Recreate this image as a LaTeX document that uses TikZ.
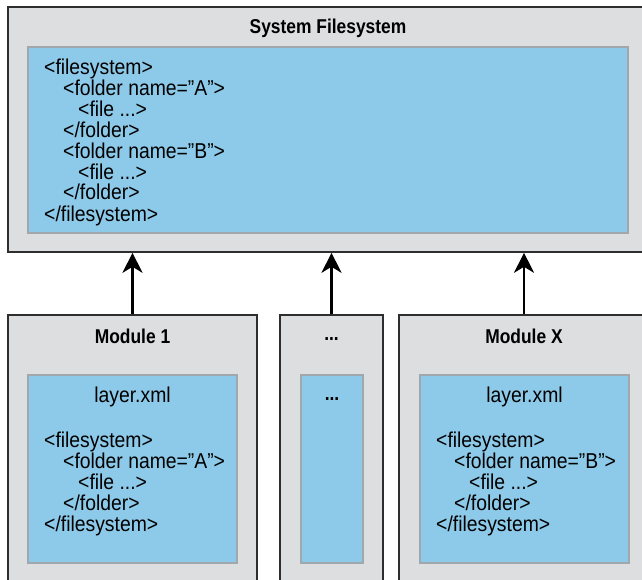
\documentclass[tikz,border=0pt]{standalone}
\usepackage{fontspec}
\setmainfont[FakeStretch=0.9]{Liberation Sans}
\newfontfamily\titlefont[FakeStretch=0.87]{Liberation Sans}
\usetikzlibrary{arrows.meta}
\definecolor{boxgray}{HTML}{DCDEE0}
\definecolor{boxblue}{HTML}{8DCAE9}
\definecolor{blueedge}{HTML}{A0A8AD}
\definecolor{darkedge}{HTML}{2E2E2E}
\tikzset{
  outerbox/.style={draw=darkedge, line width=1.6pt, fill=boxgray, inner sep=0pt},
  bluebox/.style={draw=blueedge, line width=1.6pt, fill=boxblue, inner sep=0pt},
  titletext/.style={font=\titlefont\fontsize{20}{22}\selectfont\bfseries, inner sep=0pt, anchor=center},
  codetext/.style={font=\fontsize{21.5}{21}\selectfont, inner sep=0pt, anchor=base west},
  captext/.style={font=\fontsize{21.5}{21}\selectfont, inner sep=0pt, anchor=center},
  uparrow/.style={line width=2.2pt, -{Stealth[length=20pt,width=20pt,inset=6pt]}}
}
\begin{document}
\begin{tikzpicture}[x=1pt,y=-1pt]
\useasboundingbox (0,0) rectangle (642,580);
\clip (0,0) rectangle (642,580);
\fill[white] (0,0) rectangle (642,580);
% top box
\node[outerbox, minimum width=640pt, minimum height=245pt] (sys) at (328,129.5) {};
\node[bluebox, minimum width=600pt, minimum height=186pt] (sysin) at (328,140) {};
\node[titletext] (systitle) at (328,28) {System Filesystem};
\node[codetext] (s1) at (44,75) {<filesystem>};
\node[codetext] (s2) at (63,96) {<folder name=”A”>};
\node[codetext] (s3) at (78,117) {<file ...>};
\node[codetext] (s4) at (63,138) {</folder>};
\node[codetext] (s5) at (63,159) {<folder name=”B”>};
\node[codetext] (s6) at (78,180) {<file ...>};
\node[codetext] (s7) at (63,200) {</folder>};
\node[codetext] (s8) at (44,221) {</filesystem>};
% modules
\node[outerbox, minimum width=249pt, minimum height=305pt] (m1) at (132.5,467.5) {};
\node[outerbox, minimum width=103pt, minimum height=305pt] (mm) at (331.5,467.5) {};
\node[outerbox, minimum width=250pt, minimum height=305pt] (mx) at (524,467.5) {};
\node[bluebox, minimum width=209pt, minimum height=188pt] (m1in) at (132.5,469) {};
\node[bluebox, minimum width=62pt, minimum height=188pt] (mmin) at (332,469) {};
\node[bluebox, minimum width=209pt, minimum height=188pt] (mxin) at (524.5,469) {};
\node[titletext] (m1title) at (132.5,336) {Module 1};
\node[titletext] (mmtitle) at (331.5,339) {...};
\node[titletext] (mxtitle) at (524,336) {Module X};
\node[captext] (m1cap) at (132.5,397) {layer.xml};
\node[titletext] (mmcap) at (332,399) {...};
\node[captext] (mxcap) at (524.5,397) {layer.xml};
\node[codetext] (a1) at (44,447) {<filesystem>};
\node[codetext] (a2) at (63,468) {<folder name=”A”>};
\node[codetext] (a3) at (78,489) {<file ...>};
\node[codetext] (a4) at (63,510) {</folder>};
\node[codetext] (a5) at (44,531) {</filesystem>};
\node[codetext] (b1) at (436,447) {<filesystem>};
\node[codetext] (b2) at (454,468) {<folder name=”B”>};
\node[codetext] (b3) at (469,489) {<file ...>};
\node[codetext] (b4) at (454,510) {</folder>};
\node[codetext] (b5) at (436,531) {</filesystem>};
% arrows
\draw[uparrow] (m1.north) -- (m1.north |- sys.south);
\draw[uparrow] (mm.north) -- (mm.north |- sys.south);
\draw[uparrow] (mx.north) -- (mx.north |- sys.south);
\end{tikzpicture}
\end{document}
